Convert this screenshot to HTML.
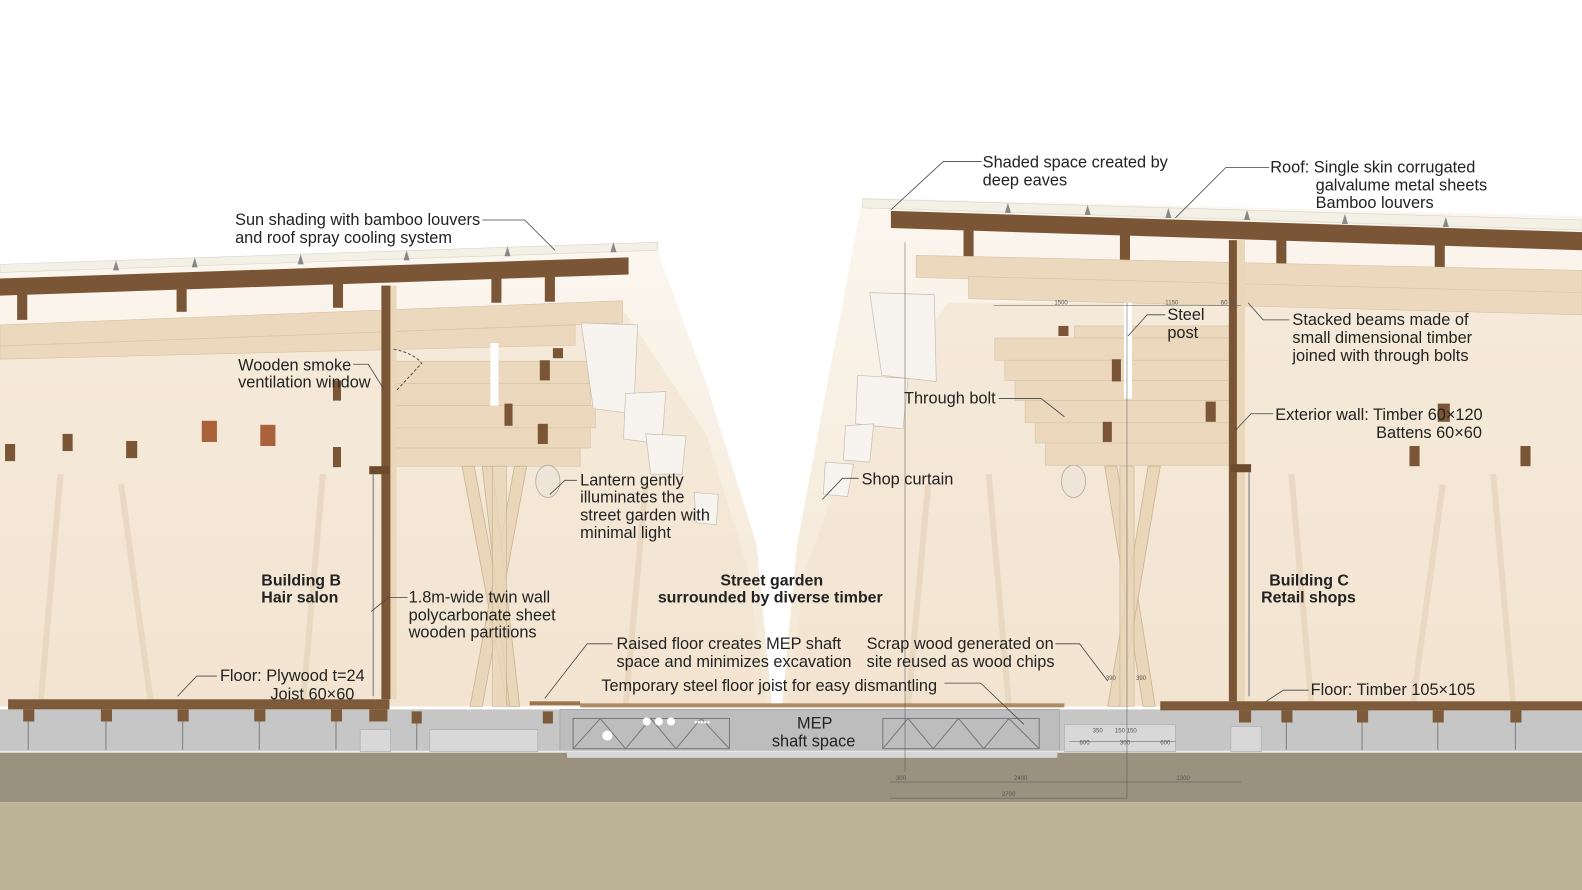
<!DOCTYPE html>
<html><head><meta charset="utf-8"><style>
html,body{margin:0;padding:0;background:#fff;}
svg{display:block;}
text{font-family:"Liberation Sans",sans-serif;font-size:16.2px;fill:#222;}
.b{font-weight:bold;font-size:15.8px;}
.d{font-size:6px;fill:#555;}
.l{fill:none;stroke:#444;stroke-width:0.8;}
</style></head><body>
<svg width="1582" height="890" viewBox="0 0 1568 882" preserveAspectRatio="none" xmlns="http://www.w3.org/2000/svg">
<defs>
<linearGradient id="haze" x1="0" y1="0" x2="0" y2="1">
<stop offset="0" stop-color="#fbf6ef"/><stop offset="1" stop-color="#f4e7d4"/></linearGradient>
</defs>
<rect width="1568" height="882" fill="#fff"/>
<polygon points="0,262 650,244 700,380 750,540 765,700 0,700" fill="url(#haze)"/>
<polygon points="855,196 1568,214 1568,700 775,700 790,540 820,380" fill="url(#haze)"/>
<polygon points="0,330 620,310 700,430 740,560 760,700 0,700" fill="#f2e3cf" opacity="0.6"/>
<polygon points="1568,300 940,300 850,420 800,560 780,700 1568,700" fill="#f2e3cf" opacity="0.6"/>
<g stroke="#e6d3bb" stroke-width="6" opacity="0.7">
<line x1="40" y1="700" x2="60" y2="470"/><line x1="150" y1="700" x2="120" y2="480"/><line x1="300" y1="700" x2="320" y2="470"/>
<line x1="1300" y1="700" x2="1280" y2="470"/><line x1="1400" y1="700" x2="1430" y2="480"/><line x1="1500" y1="700" x2="1480" y2="470"/>
<line x1="900" y1="700" x2="920" y2="480"/><line x1="1000" y1="700" x2="980" y2="470"/><line x1="620" y1="700" x2="640" y2="480"/>
</g>
<polygon points="0,262 652,240 652,248 0,270" fill="#f3f0e6" stroke="#d8d4c8" stroke-width="0.6"/>
<g fill="#888"><path d="M112,268 l3,-10 l3,10z"/><path d="M190,265 l3,-10 l3,10z"/><path d="M295,262 l3,-10 l3,10z"/><path d="M400,258 l3,-10 l3,10z"/><path d="M500,254 l3,-10 l3,10z"/><path d="M605,250 l3,-10 l3,10z"/></g>
<polygon points="0,276 623,255 623,272 0,293" fill="#7a5636"/>
<g fill="#7a5636"><rect x="17" y="290" width="10" height="27"/><rect x="175" y="285" width="10" height="24"/><rect x="330" y="281" width="10" height="24"/><rect x="487" y="275" width="10" height="25"/><rect x="540" y="274" width="10" height="25"/></g>
<polygon points="0,322 617,298 617,320 0,343" fill="#ecd9bd" stroke="#d6c2a6" stroke-width="0.6"/>
<polygon points="0,343 570,322 570,342 0,356" fill="#ecd9bd" stroke="#d6c2a6" stroke-width="0.6"/>
<g fill="#ecd9bd" stroke="#d4c0a4" stroke-width="0.6">
<rect x="390" y="358" width="195" height="22"/><rect x="390" y="380" width="195" height="22"/><rect x="390" y="402" width="200" height="22"/><rect x="390" y="424" width="195" height="20"/><rect x="390" y="444" width="185" height="18"/>
</g>
<rect x="486" y="340" width="8" height="62" fill="#fff"/>
<g fill="#7a5636"><rect x="535" y="357" width="10" height="20"/><rect x="548" y="345" width="10" height="10"/><rect x="500" y="400" width="8" height="22"/><rect x="533" y="420" width="10" height="20"/><rect x="330" y="377" width="8" height="20"/><rect x="330" y="443" width="8" height="20"/><rect x="125" y="437" width="11" height="17"/><rect x="62" y="430" width="10" height="17"/><rect x="5" y="440" width="10" height="17"/></g>
<rect x="200" y="417" width="15" height="21" fill="#a9623a"/><rect x="258" y="421" width="15" height="21" fill="#a9623a"/>
<rect x="378" y="283" width="9" height="410" fill="#7a5636"/>
<rect x="387" y="283" width="6" height="410" fill="#ead6b8"/>
<rect x="366" y="462" width="20" height="8" fill="#6b4a2e"/>
<line x1="370" y1="470" x2="370" y2="690" stroke="#999" stroke-width="1.5"/>
<path d="M390,346 Q410,350 418,360 L392,388" fill="none" stroke="#333" stroke-width="0.8" stroke-dasharray="3,2"/>
<g fill="#ead6b8" stroke="#c9b394" stroke-width="0.8">
<polygon points="458,462 470,462 515,700 503,700"/><polygon points="510,462 522,462 478,700 466,700"/>
<polygon points="478,462 488,462 515,700 505,700"/><rect x="488" y="462" width="14" height="238" opacity="0.8"/>
</g>
<rect x="452" y="712" width="74" height="6" fill="#eee"/>
<ellipse cx="543" cy="477" rx="12" ry="16" fill="#eee5d8" stroke="#aaa" stroke-width="0.8"/>
<ellipse cx="1064" cy="477" rx="12" ry="16" fill="#eee5d8" stroke="#aaa" stroke-width="0.8"/>
<g fill="#f7f3ee" stroke="#c8bfb2" stroke-width="0.7">
<polygon points="576,320 632,322 628,410 588,405"/><polygon points="620,390 660,388 656,440 618,435"/><polygon points="640,430 680,432 676,470 645,470"/><polygon points="688,488 712,490 710,520 690,518"/>
<polygon points="850,372 900,375 895,425 848,420"/><polygon points="838,422 866,420 862,458 836,456"/><polygon points="818,458 846,460 840,492 816,490"/><polygon points="862,290 926,292 928,378 874,372"/>
</g>
<polygon points="855,197 1568,218 1568,228 855,206" fill="#f3f0e6" stroke="#d8d4c8" stroke-width="0.6"/>
<g fill="#888"><path d="M996,211 l3,-10 l3,10z"/><path d="M1075,213 l3,-10 l3,10z"/><path d="M1155,216 l3,-10 l3,10z"/><path d="M1233,218 l3,-10 l3,10z"/><path d="M1330,222 l3,-10 l3,10z"/><path d="M1430,225 l3,-10 l3,10z"/></g>
<polygon points="883,209 1568,230 1568,248 883,226" fill="#7a5636"/>
<g fill="#7a5636"><rect x="955" y="228" width="10" height="26"/><rect x="1110" y="232" width="10" height="26"/><rect x="1265" y="236" width="10" height="26"/><rect x="1422" y="240" width="10" height="30"/></g>
<polygon points="908,253 1568,268 1568,292 908,275" fill="#ecd9bd" stroke="#d6c2a6" stroke-width="0.6"/>
<polygon points="960,274 1568,290 1568,312 960,296" fill="#ecd9bd" stroke="#d6c2a6" stroke-width="0.6"/>
<g fill="#ecd9bd" stroke="#d4c0a4" stroke-width="0.6">
<rect x="1065" y="323" width="155" height="12"/><rect x="986" y="335" width="234" height="22"/><rect x="996" y="357" width="224" height="20"/><rect x="1006" y="377" width="214" height="20"/><rect x="1016" y="397" width="204" height="22"/><rect x="1026" y="419" width="194" height="20"/><rect x="1036" y="439" width="184" height="22"/>
</g>
<rect x="1114" y="300" width="8" height="95" fill="#fff"/>
<g fill="#7a5636"><rect x="1049" y="323" width="10" height="10"/><rect x="1102" y="356" width="9" height="22"/><rect x="1195" y="398" width="10" height="20"/><rect x="1093" y="418" width="9" height="20"/><rect x="1397" y="442" width="10" height="20"/><rect x="1507" y="442" width="10" height="20"/><rect x="1425" y="400" width="12" height="18"/></g>
<rect x="1218" y="238" width="8" height="457" fill="#7a5636"/>
<rect x="1226" y="238" width="8" height="457" fill="#ead6b8"/>
<rect x="1220" y="460" width="20" height="8" fill="#6b4a2e"/>
<line x1="1238" y1="468" x2="1238" y2="690" stroke="#999" stroke-width="1.5"/>
<g fill="#ead6b8" stroke="#c9b394" stroke-width="0.8">
<polygon points="1095,462 1107,462 1145,700 1133,700"/><polygon points="1138,462 1150,462 1110,700 1098,700"/><rect x="1110" y="462" width="14" height="238" opacity="0.8"/>
</g>
<rect x="0" y="703" width="1568" height="42" fill="#c6c6c6"/>
<rect x="555" y="703" width="495" height="48" fill="#bdbdbd" stroke="#999" stroke-width="0.6"/>
<rect x="0" y="745" width="1568" height="50" fill="#9a927e"/>
<rect x="0" y="795" width="1568" height="87" fill="#bdb397"/>
<line x1="0" y1="745" x2="1568" y2="745" stroke="#eaeaea" stroke-width="2"/>
<g fill="#d8d8d8" stroke="#aaa" stroke-width="0.6"><rect x="357" y="723" width="30" height="22"/><rect x="426" y="723" width="107" height="22"/><rect x="1055" y="718" width="110" height="27"/><rect x="1220" y="720" width="30" height="25"/></g>
<rect x="8" y="693" width="378" height="10" fill="#7d5a3a"/>
<rect x="525" y="695" width="50" height="4" fill="#9c7550"/>
<rect x="575" y="697" width="480" height="4" fill="#b08a62"/>
<rect x="1150" y="695" width="418" height="9" fill="#7d5a3a"/>
<g fill="#7d5a3a"><rect x="23" y="703" width="11" height="12"/><rect x="100" y="703" width="11" height="12"/><rect x="176" y="703" width="11" height="12"/><rect x="252" y="703" width="11" height="12"/><rect x="328" y="703" width="11" height="12"/><rect x="366" y="703" width="18" height="12"/><rect x="408" y="705" width="10" height="12"/><rect x="538" y="705" width="10" height="12"/>
<rect x="1228" y="704" width="12" height="12"/><rect x="1270" y="704" width="11" height="12"/><rect x="1345" y="704" width="11" height="12"/><rect x="1420" y="704" width="11" height="12"/><rect x="1497" y="704" width="11" height="12"/></g>
<g stroke="#888" stroke-width="1.2"><line x1="28" y1="715" x2="28" y2="743"/><line x1="105" y1="715" x2="105" y2="743"/><line x1="181" y1="715" x2="181" y2="743"/><line x1="257" y1="715" x2="257" y2="743"/><line x1="333" y1="715" x2="333" y2="743"/><line x1="413" y1="717" x2="413" y2="743"/><line x1="1275" y1="716" x2="1275" y2="743"/><line x1="1350" y1="716" x2="1350" y2="743"/><line x1="1425" y1="716" x2="1425" y2="743"/><line x1="1502" y1="716" x2="1502" y2="743"/></g>
<g fill="none" stroke="#777" stroke-width="1"><rect x="568" y="712" width="155" height="30"/><path d="M568,742 L595,712 L620,742 L645,712 L670,742 L695,712 L723,742"/><rect x="875" y="712" width="155" height="30"/><path d="M875,742 L900,712 L925,742 L950,712 L975,742 L1000,712 L1030,742"/></g>
<g fill="#fff"><circle cx="641" cy="715" r="4"/><circle cx="653" cy="715" r="4"/><circle cx="665" cy="715" r="4"/><circle cx="602" cy="729" r="5"/></g>
<text x="688" y="719" style="font-size:9px;fill:#fff">•••••</text>
<rect x="562" y="745" width="486" height="6" fill="#d6d6d6"/>
<g stroke="#555" stroke-width="0.5"><line x1="882" y1="775" x2="1230" y2="775"/><line x1="882" y1="791" x2="1117" y2="791"/><line x1="1117" y1="300" x2="1117" y2="791"/><line x1="897" y1="240" x2="897" y2="765"/><line x1="985" y1="303" x2="1230" y2="303"/><line x1="1060" y1="735" x2="1165" y2="735"/></g>
<text class="d" x="888" y="773">300</text><text class="d" x="1005" y="773">2400</text><text class="d" x="1166" y="773">1300</text><text class="d" x="993" y="789">2700</text>
<text class="d" x="1045" y="302">1500</text><text class="d" x="1155" y="302">1150</text><text class="d" x="1210" y="302">60 90</text>
<text class="d" x="1083" y="726">350</text><text class="d" x="1105" y="726">150 150</text><text class="d" x="1070" y="738">600</text><text class="d" x="1110" y="738">300</text><text class="d" x="1150" y="738">600</text><text class="d" x="1096" y="674">390</text><text class="d" x="1126" y="674">390</text>
<g class="l">
<path d="M478,218 H520 L550,248"/><path d="M973,160 H935 L883,208"/><path d="M1258,166 H1215 L1165,216"/>
<path d="M1155,312 H1137 L1118,333"/><path d="M1278,317 H1252 L1237,300"/><path d="M350,361 H365 L380,385"/>
<path d="M990,395 H1032 L1055,413"/><path d="M1262,410 H1240 L1224,427"/><path d="M572,476 H560 L545,490"/>
<path d="M851,474 H835 L815,495"/><path d="M404,592 H385 L368,606"/><path d="M607,638 H582 L540,692"/>
<path d="M1046,638 H1070 L1098,675"/><path d="M936,677 H972 L1015,718"/><path d="M215,670 H195 L176,690"/><path d="M1297,684 H1272 L1255,695"/>
</g>
<text x="233" y="223">Sun shading with bamboo louvers</text><text x="233" y="241">and roof spray cooling system</text>
<text x="974" y="166">Shaded space created by</text><text x="974" y="184">deep eaves</text>
<text x="1259" y="171">Roof: Single skin corrugated</text><text x="1304" y="189">galvalume metal sheets</text><text x="1304" y="206">Bamboo louvers</text>
<text x="1157" y="317">Steel</text><text x="1157" y="335">post</text>
<text x="1281" y="322">Stacked beams made of</text><text x="1281" y="340">small dimensional timber</text><text x="1281" y="358">joined with through bolts</text>
<text x="236" y="367">Wooden smoke</text><text x="236" y="384">ventilation window</text>
<text x="896" y="400">Through bolt</text>
<text x="1264" y="416">Exterior wall: Timber 60×120</text><text x="1364" y="434">Battens 60×60</text>
<text x="575" y="481">Lantern gently</text><text x="575" y="498">illuminates the</text><text x="575" y="516">street garden with</text><text x="575" y="533">minimal light</text>
<text x="854" y="480">Shop curtain</text>
<text class="b" x="259" y="580">Building B</text><text class="b" x="259" y="597">Hair salon</text>
<text class="b" x="714" y="580">Street garden</text><text class="b" x="652" y="597">surrounded by diverse timber</text>
<text class="b" x="1258" y="580">Building C</text><text class="b" x="1250" y="597">Retail shops</text>
<text x="405" y="597">1.8m-wide twin wall</text><text x="405" y="615">polycarbonate sheet</text><text x="405" y="632">wooden partitions</text>
<text x="611" y="643">Raised floor creates MEP shaft</text><text x="611" y="661">space and minimizes excavation</text>
<text x="859" y="643">Scrap wood generated on</text><text x="859" y="661">site reused as wood chips</text>
<text x="596" y="685">Temporary steel floor joist for easy dismantling</text>
<text x="218" y="675">Floor: Plywood t=24</text><text x="268" y="693">Joist 60×60</text>
<text x="1299" y="689">Floor: Timber 105×105</text>
<text x="790" y="722">MEP</text><text x="765" y="740">shaft space</text>
</svg>
</body></html>
